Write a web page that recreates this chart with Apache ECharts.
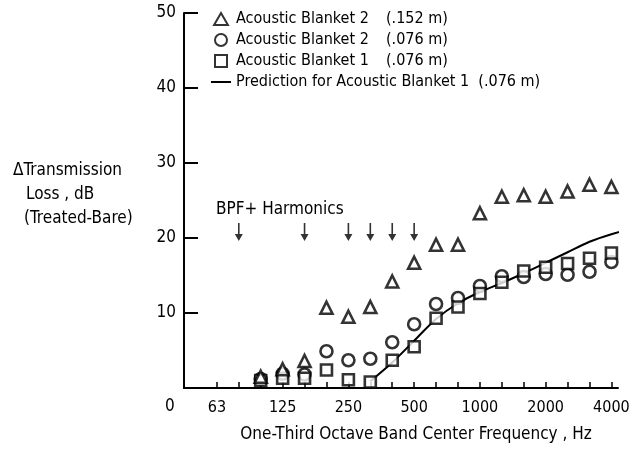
<!DOCTYPE html>
<html>
<head>
<meta charset="utf-8">
<script src="https://cdn.jsdelivr.net/npm/echarts@6/dist/echarts.min.js"></script>
<style>
  html, body { margin: 0; background: #fff; }
  #chart { width: 632px; height: 452px; }
</style>
</head>
<body>
<div id="chart"></div>
<script>
// one-third octave band centres (Hz); the last one (5000) sits just past the axis end
const bands = [63, 80, 100, 125, 160, 200, 250, 315, 400, 500, 630, 800, 1000, 1250, 1600, 2000, 2500, 3150, 4000, 5000];
const octaveTicks = [63, 125, 250, 500, 1000, 2000, 4000];

// delta transmission loss, dB (treated - bare), null = no point
const blanket2Thick = [null, null, 1.5, 2.5, 3.6, 10.7, 9.5, 10.8, 14.2, 16.7, 19.1, 19.1, 23.3, 25.5, 25.7, 25.5, 26.2, 27.1, 26.8];
const blanket2Thin  = [null, null, 1.2, 1.9, 1.8, 4.9, 3.7, 3.9, 6.1, 8.5, 11.2, 12.0, 13.6, 14.9, 14.8, 15.2, 15.1, 15.5, 16.8];
const blanket1Thin  = [null, null, 1.0, 1.3, 1.3, 2.4, 1.1, 0.8, 3.7, 5.5, 9.3, 10.8, 12.6, 14.1, 15.6, 16.1, 16.6, 17.3, 18.0];
const prediction    = [null, null, null, null, null, null, null, 0.9, 3.4, 6.3, 9.2, 11.3, 12.8, 14.0, 15.3, 16.7, 18.1, 19.5, 20.5, 21.3];

// blade passage frequency and harmonics
const bpfBands = [80, 160, 250, 315, 400, 500];
const bpfLevel = 20.8;

const FONT = "'DejaVu Sans Condensed', 'Liberation Sans Narrow', sans-serif";

const toPairs = (vals) => vals.map((v, i) => (v == null ? null : [i, v])).filter(Boolean);
const idx = (f) => bands.indexOf(f);

const chart = echarts.init(document.getElementById('chart'), null, { renderer: 'canvas' });

const markerStyle = { color: '#fff', borderColor: '#000', borderWidth: 2.6 };
const TRI = 'path://M6,0 L12,10.4 L0,10.4 Z';
const BOX = 'path://M0,0 L10,0 L10,10 L0,10 Z';

const options = {
  animation: false,
  backgroundColor: '#fff',
  textStyle: { fontFamily: FONT, color: '#000' },
  grid: {
    left: 184, right: 14, top: 13, bottom: 64,
    containLabel: false,
    outerBoundsMode: 'none'
  },
  legend: {
    orient: 'vertical',
    left: 206, top: 6,
    itemWidth: 20, itemHeight: 12, itemGap: 5,
    symbolKeepAspect: true,
    data: [
      { name: 'Acoustic Blanket 2 (.152 m)', icon: TRI },
      { name: 'Acoustic Blanket 2 (.076 m)', icon: 'circle' },
      { name: 'Acoustic Blanket 1 (.076 m)', icon: BOX },
      { name: 'Prediction for Acoustic Blanket 1 (.076 m)', icon: 'path://M0,0 L20,0 L20,2 L0,2 Z', itemStyle: { color: '#000', borderWidth: 0 } }
    ],
    formatter: (name) => {
      const k = name.lastIndexOf(' (');
      if (name.startsWith('Prediction')) return '{p|' + name.slice(0, k) + '  ' + name.slice(k + 1) + '}';
      return '{a|' + name.slice(0, k) + '}{b|' + name.slice(k + 1) + '}';
    },
    textStyle: {
      fontFamily: FONT, fontSize: 16, color: '#000',
      rich: {
        a: { width: 150, fontFamily: FONT, fontSize: 16, color: '#000' },
        b: { fontFamily: FONT, fontSize: 16, color: '#000' },
        p: { fontFamily: FONT, fontSize: 16, color: '#000' }
      }
    }
  },
  xAxis: {
    type: 'value',
    min: -1.5, max: 18.3,
    name: 'One-Third Octave Band Center Frequency , Hz',
    nameLocation: 'middle',
    nameGap: 38,
    nameTextStyle: { fontFamily: FONT, fontSize: 17, color: '#000', padding: [0, 0, 0, 30] },
    axisLine: { onZero: false, lineStyle: { color: '#000', width: 2 } },
    axisTick: {
      inside: true, length: 6,
      customValues: bands.slice(0, 19).map((f, i) => i),
      lineStyle: { color: '#000', width: 1.5 }
    },
    axisLabel: {
      customValues: octaveTicks.map(idx),
      formatter: (v) => String(bands[Math.round(v)]),
      fontFamily: FONT, fontSize: 16, color: '#000', margin: 12
    },
    splitLine: { show: false }
  },
  yAxis: {
    type: 'value',
    min: 0, max: 50, interval: 10,
    axisLine: { show: true, onZero: false, lineStyle: { color: '#000', width: 2 } },
    axisTick: { show: true, inside: true, length: 14, lineStyle: { color: '#000', width: 2 } },
    axisLabel: {
      formatter: (v) => (v === 0 ? '' : String(v)),
      fontFamily: FONT, fontSize: 17, color: '#000', margin: 8
    },
    splitLine: { show: false }
  },
  graphic: [
    { type: 'text', left: 165, top: 398, style: { text: '0', font: '17px ' + FONT, fill: '#000' } },
    { type: 'text', left: 13, top: 162, style: { text: '\u0394Transmission', font: '17px ' + FONT, fill: '#000' } },
    { type: 'text', left: 26, top: 186, style: { text: 'Loss , dB', font: '17px ' + FONT, fill: '#000' } },
    { type: 'text', left: 24, top: 210, style: { text: '(Treated-Bare)', font: '17px ' + FONT, fill: '#000' } },
    { type: 'text', left: 216, top: 201, style: { text: 'BPF+ Harmonics', font: '17px ' + FONT, fill: '#000' } }
  ],
  series: [
    {
      name: 'Prediction for Acoustic Blanket 1 (.076 m)',
      type: 'line',
      data: toPairs(prediction),
      smooth: 0.3,
      symbol: 'none',
      clip: false,
      lineStyle: { color: '#000', width: 2 },
      itemStyle: { color: '#000' },
      z: 1
    },
    {
      name: 'Acoustic Blanket 2 (.076 m)',
      type: 'scatter',
      data: toPairs(blanket2Thin),
      symbol: 'circle',
      symbolSize: 12,
      itemStyle: markerStyle,
      z: 2
    },
    {
      name: 'Acoustic Blanket 1 (.076 m)',
      type: 'scatter',
      data: toPairs(blanket1Thin),
      symbol: 'rect',
      symbolSize: 11,
      itemStyle: markerStyle,
      z: 3
    },
    {
      name: 'Acoustic Blanket 2 (.152 m)',
      type: 'scatter',
      data: toPairs(blanket2Thick),
      symbol: 'triangle',
      symbolSize: 12,
      itemStyle: markerStyle,
      z: 4
    },
    {
      name: 'BPF',
      type: 'scatter',
      data: bpfBands.map((f) => [idx(f), bpfLevel]),
      symbol: 'path://M3.2,0 L4.8,0 L4.8,11 L8,11 L4,18 L0,11 L3.2,11 Z',
      symbolSize: [8, 18],
      itemStyle: { color: '#000' },
      z: 5
    }
  ]
};

chart.setOption(options);
</script>
</body>
</html>
